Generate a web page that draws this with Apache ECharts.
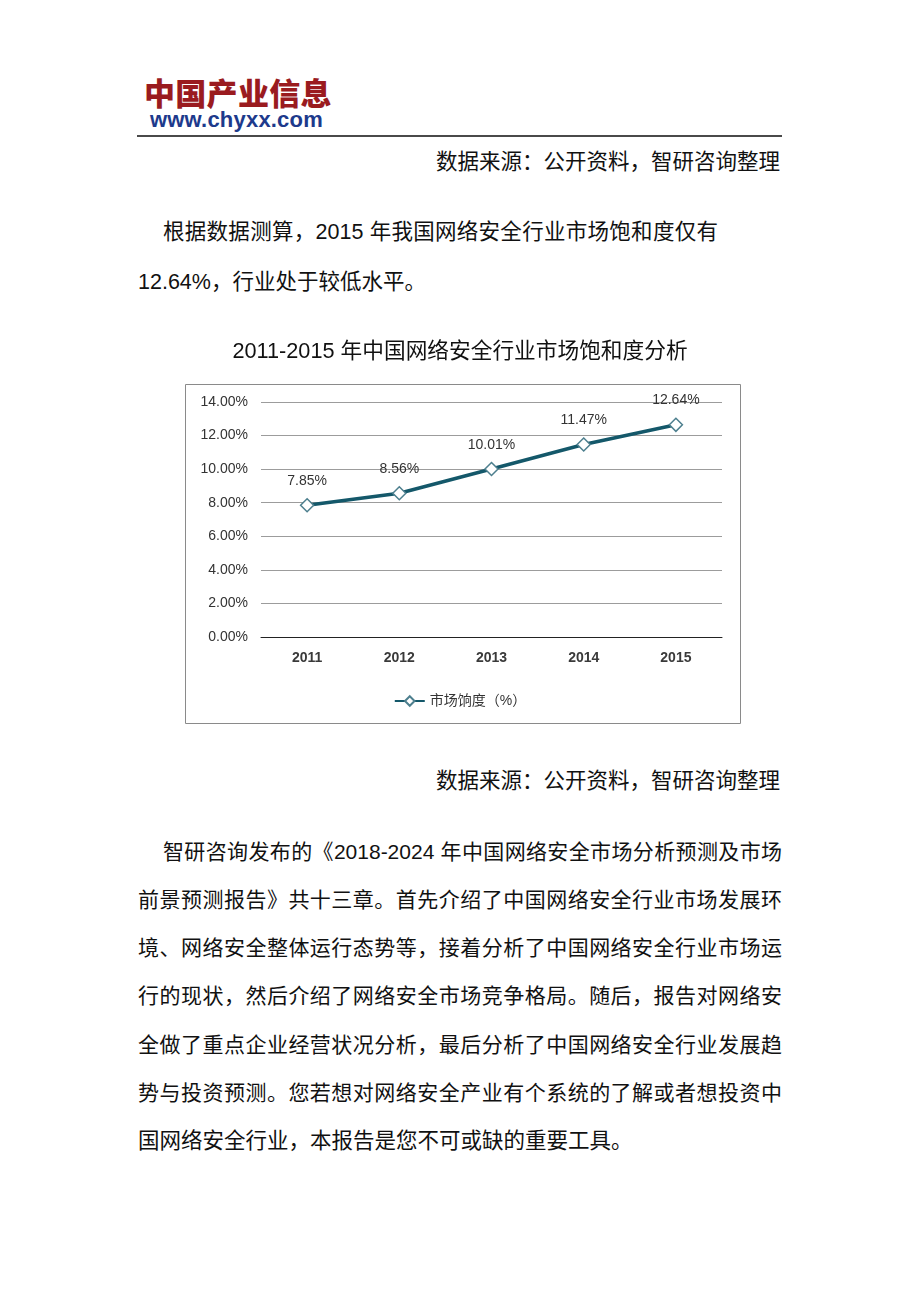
<!DOCTYPE html>
<html><head><meta charset="utf-8">
<script src="https://cdn.jsdelivr.net/npm/echarts@6/dist/echarts.min.js"></script>
<style>
html,body{margin:0;padding:0;background:#fff;}
body{width:920px;height:1302px;position:relative;overflow:hidden;font-family:"Liberation Sans","Noto Sans CJK SC",sans-serif;color:#111;}
.t{position:absolute;font-size:21.5px;line-height:48px;height:48px;white-space:nowrap;}
.j{text-align:justify;text-align-last:justify;}
.p{font-size:21px;}
#logo1{position:absolute;left:144px;top:72px;font-family:"Noto Sans CJK SC";font-weight:900;font-size:31px;line-height:40px;color:#9a1b1f;letter-spacing:0.3px;}
#logo2{position:absolute;left:150px;top:106px;font-family:"Liberation Sans";font-weight:bold;font-size:22px;line-height:28px;color:#1d3a8c;letter-spacing:0.2px;}
#rule{position:absolute;left:137px;top:135px;width:645px;height:2px;background:#4a4a4a;}
#chart{position:absolute;left:0;top:320px;width:920px;height:420px;}
</style></head>
<body>
<div id="logo1">中国产业信息</div>
<div id="logo2">www.chyxx.com</div>
<div id="rule"></div>
<div class="t" style="right:140px;top:138px;">数据来源：公开资料，智研咨询整理</div>
<div class="t j" style="left:163px;width:555px;top:208px;">根据数据测算，2015 年我国网络安全行业市场饱和度仅有</div>
<div class="t" style="left:138px;top:258px;">12.64%，行业处于较低水平。</div>
<div id="chart"></div>
<div class="t" style="right:140px;top:757px;">数据来源：公开资料，智研咨询整理</div>
<div class="t j p" style="left:163px;width:619px;top:828px;">智研咨询发布的《2018-2024 年中国网络安全市场分析预测及市场</div>
<div class="t j p" style="left:138px;width:644px;top:876px;">前景预测报告》共十三章。首先介绍了中国网络安全行业市场发展环</div>
<div class="t j p" style="left:138px;width:644px;top:924px;">境、网络安全整体运行态势等，接着分析了中国网络安全行业市场运</div>
<div class="t j p" style="left:138px;width:644px;top:972px;">行的现状，然后介绍了网络安全市场竞争格局。随后，报告对网络安</div>
<div class="t j p" style="left:138px;width:644px;top:1021px;">全做了重点企业经营状况分析，最后分析了中国网络安全行业发展趋</div>
<div class="t j p" style="left:138px;width:644px;top:1069px;">势与投资预测。您若想对网络安全产业有个系统的了解或者想投资中</div>
<div class="t" style="left:138px;top:1117px;">国网络安全行业，本报告是您不可或缺的重要工具。</div>
<script>
const chartTitle = '2011-2015 年中国网络安全行业市场饱和度分析';
const legendLabel = '市场饷度（%）';
const categories = ['2011', '2012', '2013', '2014', '2015'];
const saturation = [7.85, 8.56, 10.01, 11.47, 12.64];
const yMin = 0, yMax = 14, yStep = 2;

const chart = echarts.init(document.getElementById('chart'));
chart.setOption({
  animation: false,
  title: {
    text: chartTitle, left: 'center', top: 16,
    textStyle: {fontFamily: '"Liberation Sans","Noto Sans CJK SC"', fontSize: 21.7, fontWeight: 'normal', color: '#111'}
  },
  graphic: [{
    type: 'rect', left: 183, top: 62, silent: true,
    shape: {width: 555, height: 339},
    style: {fill: 'none', stroke: '#8a8a8a', lineWidth: 1}
  }],
  legend: {
    top: 369, left: 'center', itemWidth: 30, itemHeight: 12, itemGap: 6,
    data: [{name: legendLabel}],
    textStyle: {fontFamily: '"Liberation Sans","Noto Sans CJK SC"', fontSize: 14, color: '#333'}
  },
  grid: {left: 261, right: 198, top: 82, bottom: 103},
  xAxis: {
    type: 'category', data: categories, boundaryGap: true,
    axisLine: {lineStyle: {color: '#222', width: 1}},
    axisTick: {show: false},
    axisLabel: {margin: 14, fontFamily: '"Liberation Sans"', fontSize: 14, color: '#3a3a3a', fontWeight: 'bold'}
  },
  yAxis: {
    type: 'value', min: yMin, max: yMax, interval: yStep,
    axisLine: {show: false}, axisTick: {show: false},
    splitLine: {lineStyle: {color: '#9c9c9c', width: 1}},
    axisLabel: {margin: 13, fontFamily: '"Liberation Sans"', fontSize: 14, color: '#333',
      formatter: v => v.toFixed(2) + '%'}
  },
  series: [{
    name: legendLabel, type: 'line', data: saturation,
    symbol: 'diamond', symbolSize: 13,
    lineStyle: {color: '#14586a', width: 3.5},
    itemStyle: {color: '#fff', borderColor: '#4d7f8e', borderWidth: 1.5},
    label: {show: true, position: 'top', distance: 10, fontFamily: '"Liberation Sans"', fontSize: 14, color: '#333',
      formatter: p => p.value.toFixed(2) + '%'}
  }]
});
</script>
</body></html>
